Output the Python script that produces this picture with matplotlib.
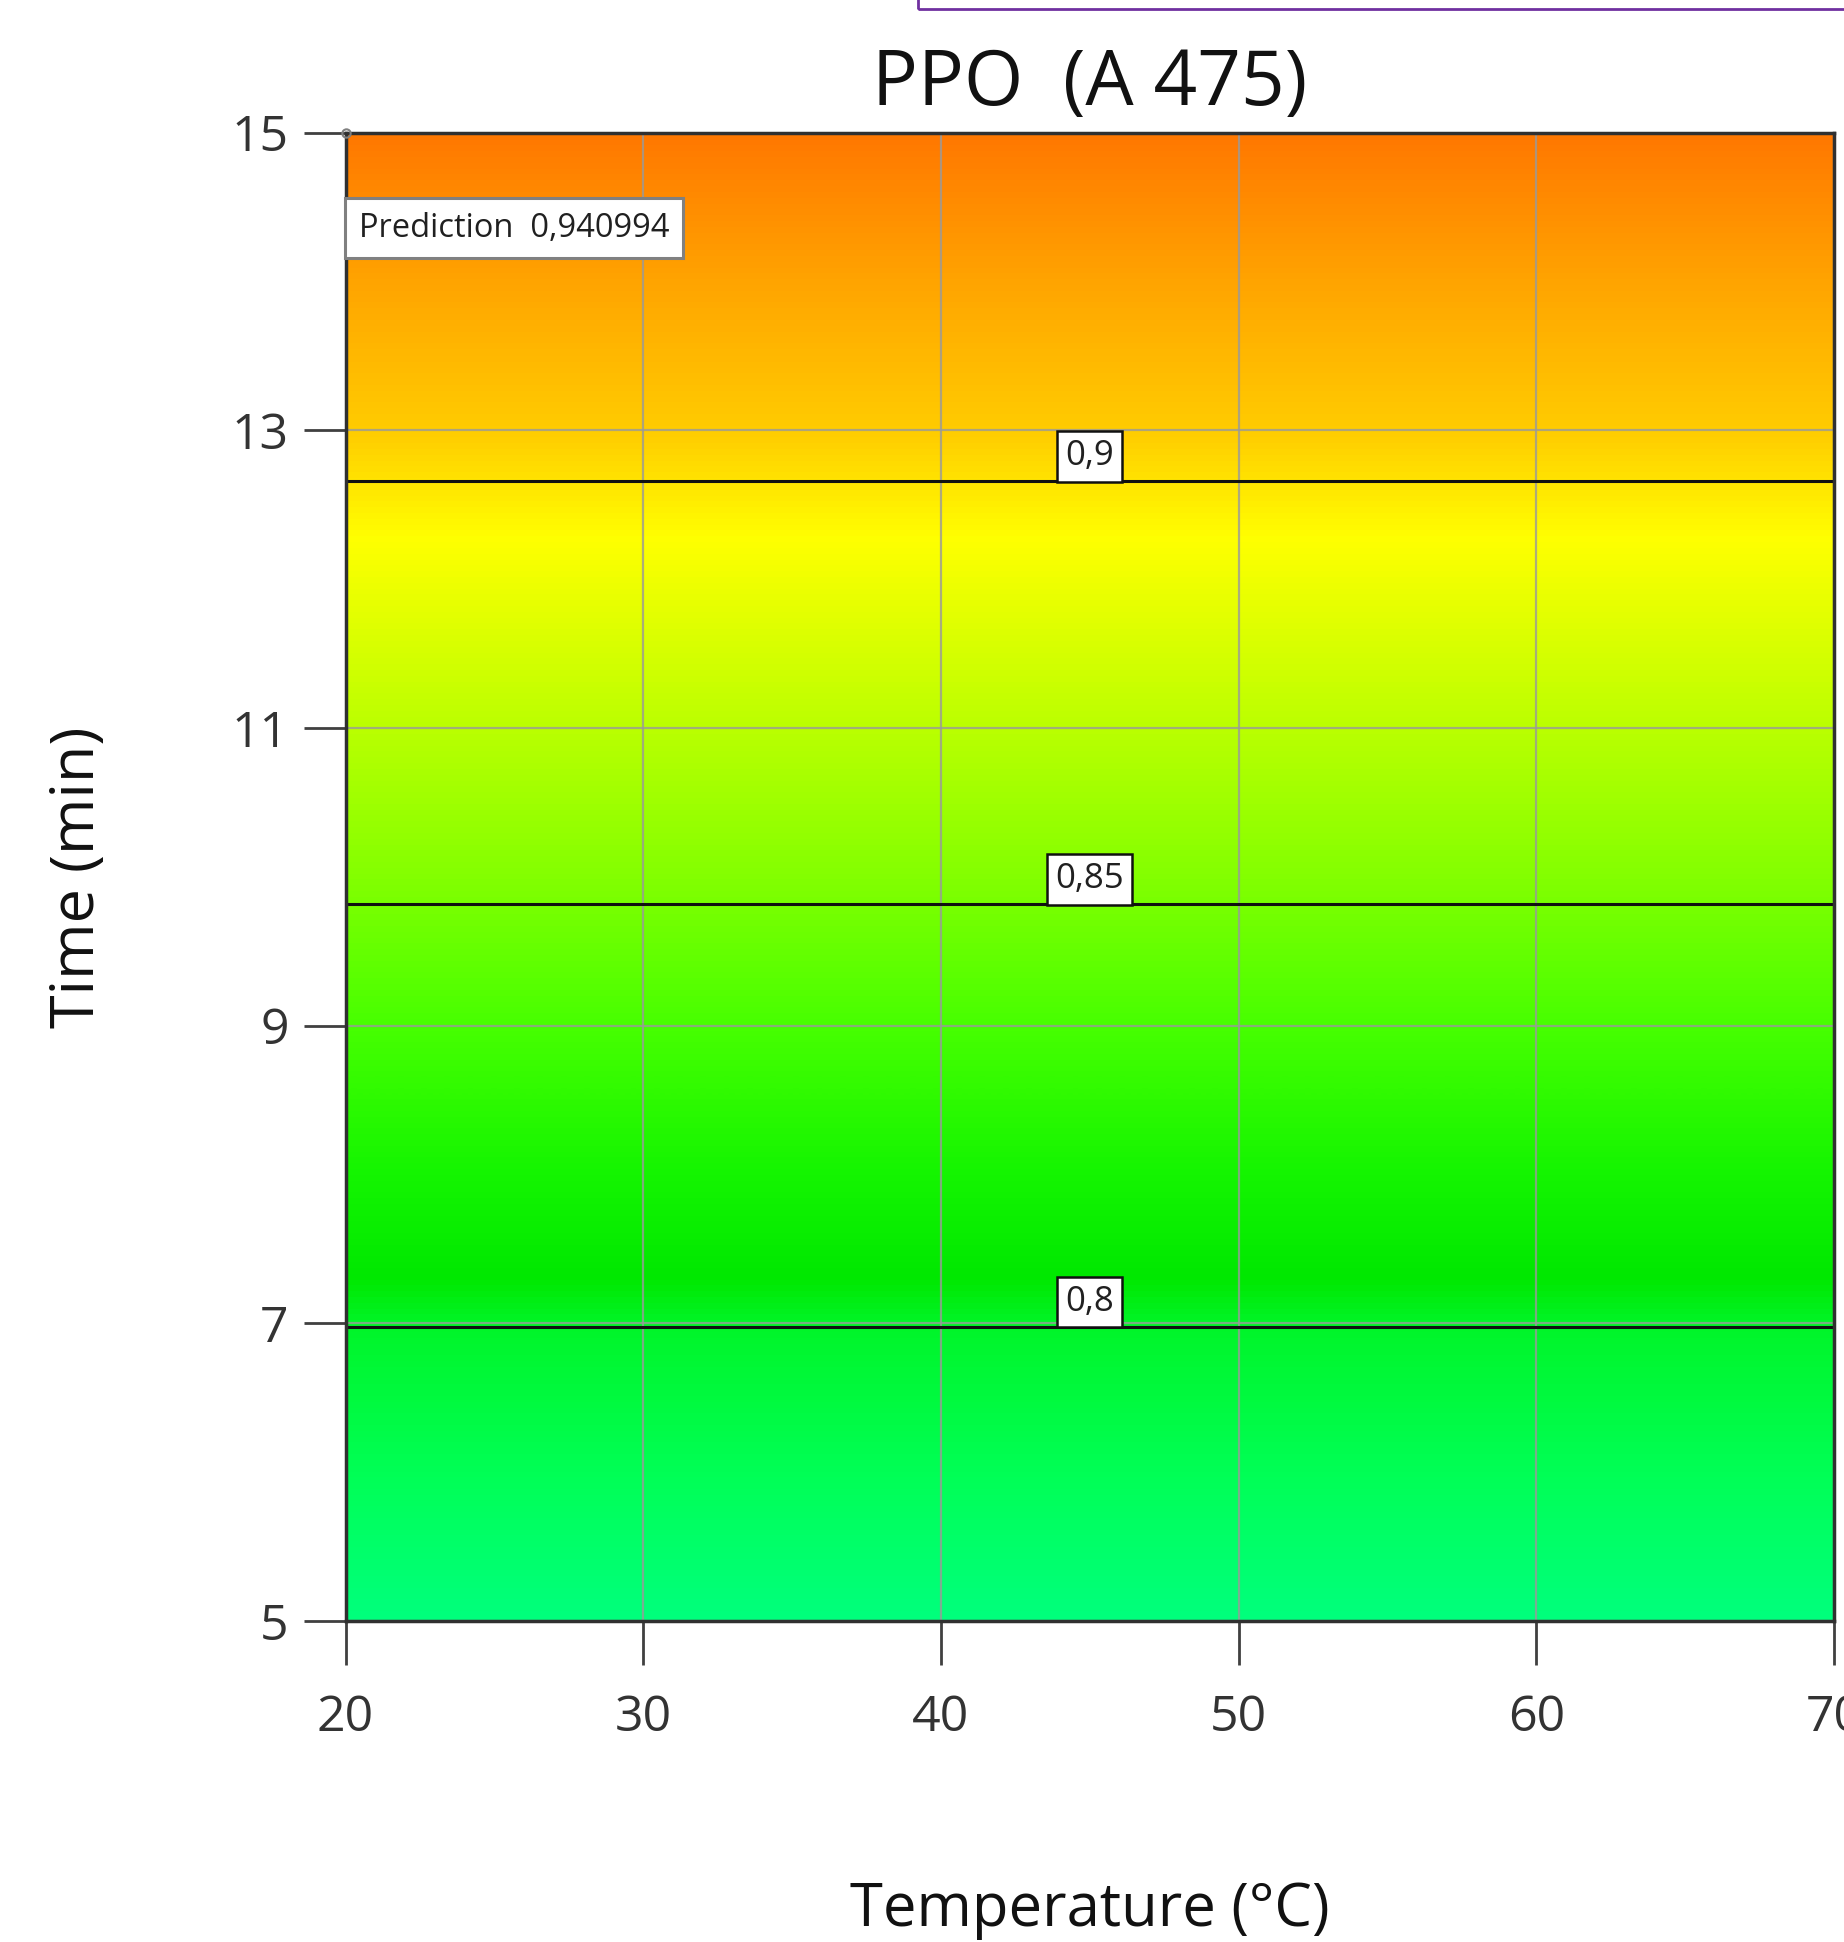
import numpy as np
import matplotlib
matplotlib.use("Agg")
import matplotlib.pyplot as plt
from matplotlib.colors import LinearSegmentedColormap
from matplotlib.patches import Rectangle

# ---- data ----
temperature = [20, 70]                      # °C (response constant in temperature)
time_points = [5, 7, 9, 11, 13, 15]         # min
prediction = [0.7651, 0.8004, 0.8356, 0.8708, 0.9060, 0.940994]
contour_levels = [0.8, 0.85, 0.9]
contour_labels = ["0,8", "0,85", "0,9"]
x_ticks = [20, 30, 40, 50, 60, 70]
y_ticks = [5, 7, 9, 11, 13, 15]
flag_point = (20, 15)
flag_text = "Prediction  0,940994"

plt.rcParams['font.family'] = ['Open Sans', 'DejaVu Sans']

fig = plt.figure(figsize=(18.44, 19.42), dpi=100)
L, R, T, B = 345.5, 1834, 132.5, 1621
W, H = 1844, 1942
ax = fig.add_axes([L / W, 1 - B / H, (R - L) / W, (B - T) / H])

stops = [
    (0.00, (0, 255, 125)),
    (0.10, (0, 255, 85)),
    (0.20, (0, 245, 40)),
    (0.23, (0, 232, 0)),
    (0.30, (20, 245, 0)),
    (0.40, (70, 255, 0)),
    (0.50, (130, 255, 0)),
    (0.60, (185, 255, 0)),
    (0.73, (255, 255, 0)),
    (0.80, (255, 205, 0)),
    (0.90, (255, 165, 0)),
    (1.00, (255, 120, 0)),
]
cmap = LinearSegmentedColormap.from_list(
    "de", [(p, tuple(c / 255 for c in col)) for p, col in stops])

Z = np.tile(np.array(prediction)[:, None], (1, len(temperature)))
dt = time_points[1] - time_points[0]
dx = temperature[1] - temperature[0]
ax.imshow(Z, origin='lower', aspect='auto', cmap=cmap,
          vmin=min(prediction), vmax=max(prediction),
          extent=[temperature[0] - dx / 2, temperature[1] + dx / 2,
                  time_points[0] - dt / 2, time_points[-1] + dt / 2],
          interpolation='bilinear', interpolation_stage='data', zorder=0)

TT, YY = np.meshgrid(temperature, time_points)
ax.contour(TT, YY, Z, levels=contour_levels, colors='#101010',
           linewidths=2.2, zorder=3)

for lev, lab in zip(contour_levels, contour_labels):
    tpos = np.interp(lev, prediction, time_points)
    ax.annotate(lab, xy=(45, tpos), xytext=(0, 5.5), textcoords='offset points',
                ha='center', va='bottom', fontsize=25, color='#202020', zorder=5,
                bbox=dict(boxstyle='square,pad=0.24', fc='white', ec='#101010', lw=1.8))

ax.set_xlim(20, 70)
ax.set_ylim(5, 15)
ax.set_xticks(x_ticks)
ax.set_yticks(y_ticks)
ax.grid(True, color='#9a9a9a', lw=1.6, alpha=0.8, zorder=1.5)

for s in ax.spines.values():
    s.set_linewidth(2.5)
    s.set_color('#303030')
    s.set_zorder(4)

ax.tick_params(axis='x', direction='out', length=32, width=2, color='#404040',
               labelsize=36, labelcolor='#333333', pad=20)
ax.tick_params(axis='y', direction='out', length=30, width=2, color='#404040',
               labelsize=36, labelcolor='#333333', pad=11)

ax.set_title("PPO  (A 475)", fontsize=55, color='#111111', pad=20)

ax.set_xlabel("Temperature (°C)", fontsize=43, color='#111111')
ax.xaxis.set_label_coords(0.5, -0.174)
ax.set_ylabel("Time (min)", fontsize=44, color='#111111')
ax.yaxis.label.set_va('center')
ax.yaxis.set_label_coords(-0.180, 0.5)

# flag
ax.plot([flag_point[0]], [flag_point[1]], 'o', mfc='none', mec='#808080', ms=6,
        mew=1.5, clip_on=False, zorder=6)
ax.annotate(flag_text, xy=flag_point, xytext=(9.5, -57), textcoords='offset points',
            ha='left', va='top', fontsize=23.5, color='#202020', zorder=6,
            bbox=dict(boxstyle='square,pad=0.42', fc='white', ec='#808080', lw=2.2))

# purple frame at top right (partial element of screenshot)
fig.patches.append(Rectangle((918 / W, 1 - 9 / H), 2, 2, fill=False,
                             edgecolor='#7030A0', lw=2,
                             transform=fig.transFigure, clip_on=False))

fig.savefig("out.png", dpi=100, facecolor='white')
